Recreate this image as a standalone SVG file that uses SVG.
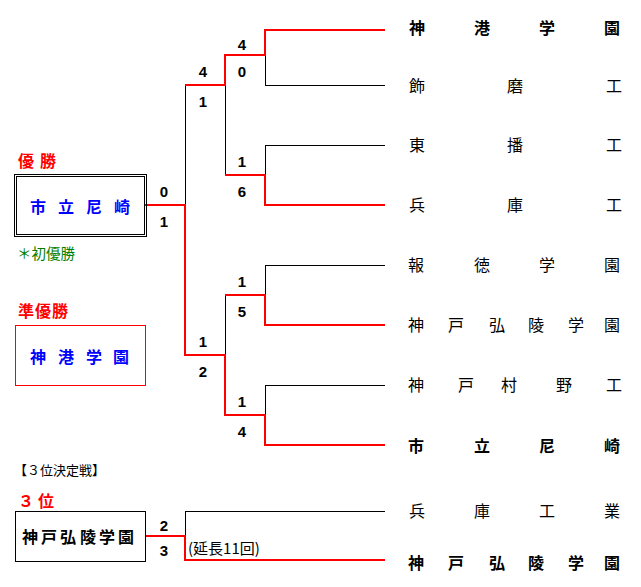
<svg xmlns="http://www.w3.org/2000/svg" width="641" height="587" viewBox="0 0 641 587">
<style>
text{font-family:"Noto Sans CJK JP","Liberation Sans",sans-serif;}
.n{font-size:16px;fill:#000;}
.b{font-weight:bold;}
.s{font-family:"Liberation Sans",Arial,sans-serif;font-size:15px;font-weight:bold;fill:#000;text-anchor:middle;}
.k{stroke:#000;stroke-width:1;fill:none;}
.r{stroke:#f00;stroke-width:2;fill:none;}
.blue{fill:#00f;}
.red{fill:#f00;}
</style>
<rect width="641" height="587" fill="#fff"/>
<g id="connectors">
  <path class="k" d="M265,85.5H385 M265.5,55V85 M225.5,85V175 M265,145.5H385 M265.5,145V175 M185.5,85V205 M265,265.5H385 M265.5,265V295 M225.5,295V355 M265,385.5H385 M265.5,385V415 M185,511.5H385 M185.5,511V536"/>
  <path class="r" d="M385,30H265V55H225V85H185"/>
  <path class="r" d="M225,175H265V205H385"/>
  <path class="r" d="M145,205H185V355H225V415H265V445H385"/>
  <path class="r" d="M225,295H265V325H385"/>
  <path class="r" d="M145,536H185V560H385"/>
</g>
<g id="scores">
  <text class="s" x="242" y="50">4</text>
  <text class="s" x="242" y="77">0</text>
  <text class="s" x="203" y="77">4</text>
  <text class="s" x="203" y="107">1</text>
  <text class="s" x="242" y="167">1</text>
  <text class="s" x="242" y="197">6</text>
  <text class="s" x="164" y="197">0</text>
  <text class="s" x="164" y="227">1</text>
  <text class="s" x="242" y="287">1</text>
  <text class="s" x="242" y="317">5</text>
  <text class="s" x="203" y="347">1</text>
  <text class="s" x="203" y="377">2</text>
  <text class="s" x="242" y="407">1</text>
  <text class="s" x="242" y="437">4</text>
  <text class="s" x="164" y="531">2</text>
  <text class="s" x="164" y="556">3</text>
  <text x="188" y="554" style="font-size:15px">(延長11回)</text>
</g>
<g id="team-1"><text class="n b" x="409 474 539 604" y="34">神港学園</text></g>
<g id="team-2"><text class="n" x="409 507 606" y="92">飾磨工</text></g>
<g id="team-3"><text class="n" x="409 507 606" y="151">東播工</text></g>
<g id="team-4"><text class="n" x="409 507 606" y="211">兵庫工</text></g>
<g id="team-5"><text class="n" x="408 474 539 604" y="271">報徳学園</text></g>
<g id="team-6"><text class="n" x="408 448 489 528 568 604" y="331">神戸弘陵学園</text></g>
<g id="team-7"><text class="n" x="408 458 501 556 606" y="391">神戸村野工</text></g>
<g id="team-8"><text class="n b" x="408 474 539 604" y="452">市立尼崎</text></g>
<g id="team-9"><text class="n" x="409 474 539 604" y="517">兵庫工業</text></g>
<g id="team-10"><text class="n b" x="408 448 489 528 568 604" y="569">神戸弘陵学園</text></g>
<g id="champion">
  <text class="red b" x="18 40" y="167" style="font-size:16px">優勝</text>
  <rect x="14.5" y="174.5" width="132" height="62" fill="none" stroke="#000"/>
  <rect x="16.5" y="176.5" width="128" height="58" fill="none" stroke="#000"/>
  <text class="blue b" x="30 58 86 114" y="213" style="font-size:16px">市立尼崎</text>
  <text x="17" y="259" style="font-size:14.5px;fill:#008000">＊初優勝</text>
</g>
<g id="runner-up">
  <text class="red b" x="18" y="317" style="font-size:16px;letter-spacing:1px">準優勝</text>
  <rect x="15.5" y="325.5" width="130" height="60" fill="none" stroke="#f00"/>
  <text class="blue b" x="30 58 86 113" y="363" style="font-size:16px">神港学園</text>
</g>
<g id="third-place">
  <text x="14" y="475" style="font-size:13px">【３位決定戦】</text>
  <text class="red b" x="18 30 38" y="507" style="font-size:16px">３ 位</text>
  <rect x="15.5" y="511.5" width="130" height="50" fill="none" stroke="#000"/>
  <text class="b" x="22 41 60 80 99 118" y="543" style="font-size:16px">神戸弘陵学園</text>
</g>
</svg>
